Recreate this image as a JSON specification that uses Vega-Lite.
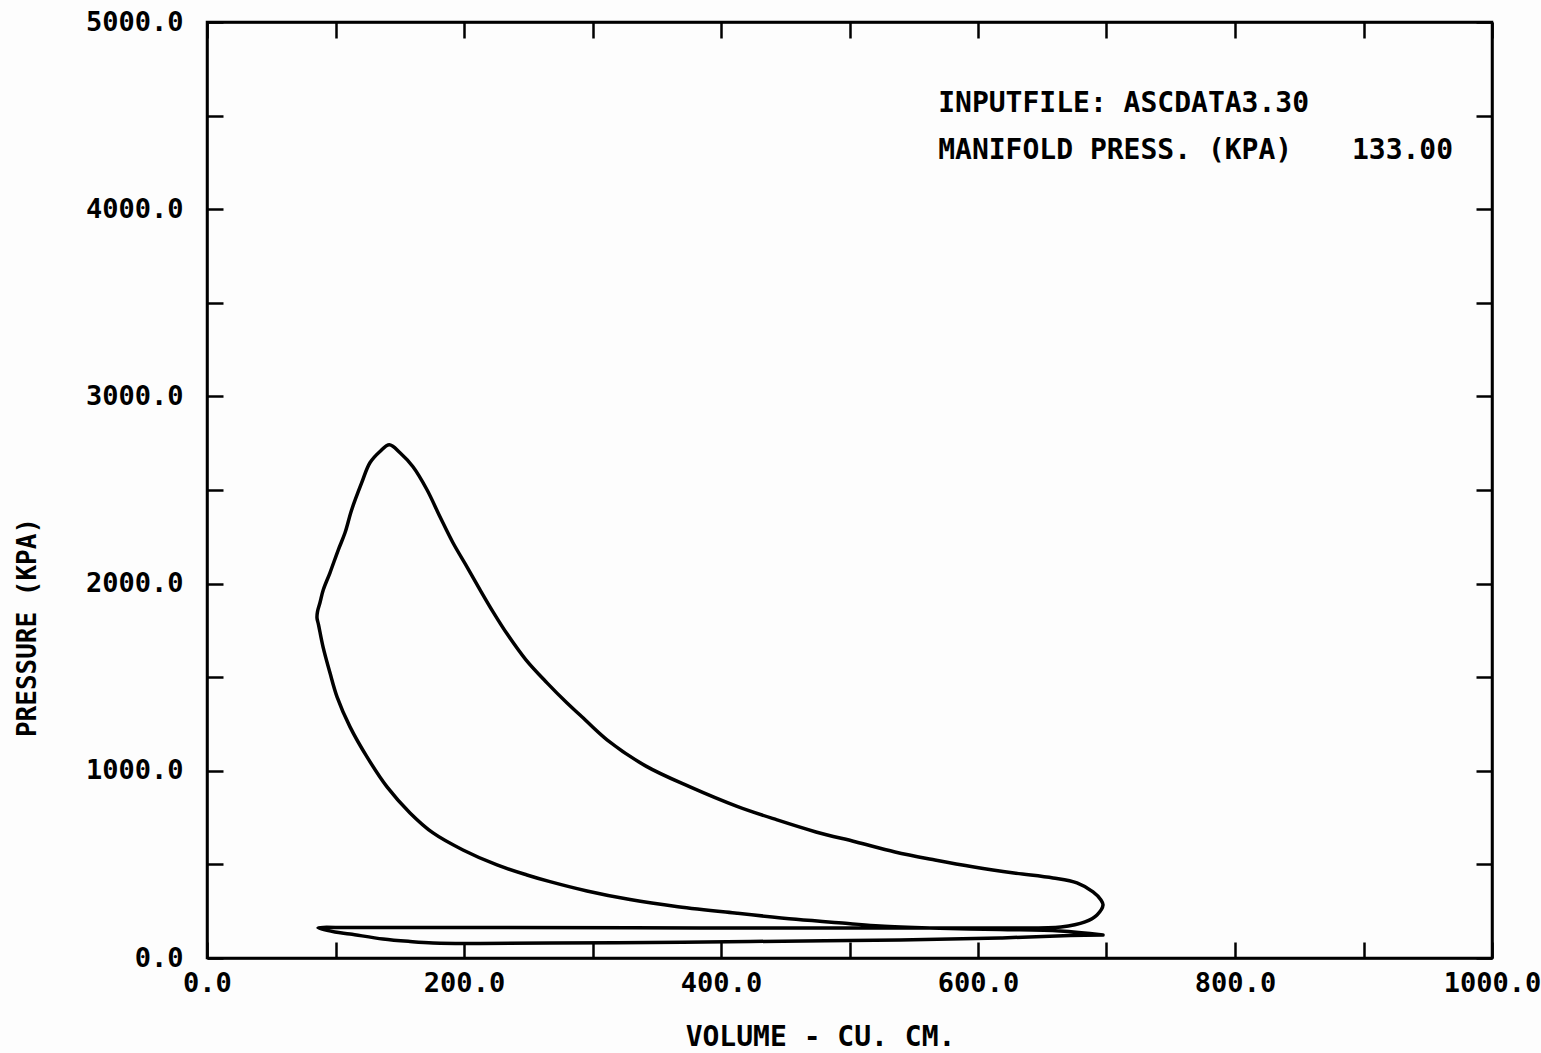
{
  "$schema": "https://vega.github.io/schema/vega-lite/v6.json",
  "autosize": "none",
  "padding": {"left": 207, "top": 22, "right": 49, "bottom": 95},
  "width": 1285,
  "height": 936,
  "background": "#fdfdfd",
  "config": {
    "view": {"stroke": "black", "strokeWidth": 2.5},
    "axis": {
      "grid": false,
      "domainColor": "black",
      "domainWidth": 2.5,
      "tickColor": "black",
      "tickWidth": 2.5,
      "labelColor": "black",
      "labelFont": "DejaVu Sans Mono",
      "labelFontWeight": "bold",
      "labelFontSize": 27,
      "labelOverlap": false,
      "labelFlush": false,
      "titleColor": "black",
      "titleFont": "DejaVu Sans Mono",
      "titleFontWeight": "bold",
      "titleFontSize": 26
    }
  },
  "datasets": {
    "cycle": [
      {"i": 1, "V": 697.3, "P": 122.9},
      {"i": 2, "V": 663.8, "P": 144.3},
      {"i": 3, "V": 617.1, "P": 152.3},
      {"i": 4, "V": 562.6, "P": 160.3},
      {"i": 5, "V": 523.7, "P": 171.0},
      {"i": 6, "V": 498.8, "P": 184.4},
      {"i": 7, "V": 458.4, "P": 206.8},
      {"i": 8, "V": 412.5, "P": 238.9},
      {"i": 9, "V": 366.5, "P": 274.2},
      {"i": 10, "V": 329.2, "P": 312.0},
      {"i": 11, "V": 295.7, "P": 358.0},
      {"i": 12, "V": 266.9, "P": 407.8},
      {"i": 13, "V": 249.0, "P": 443.6},
      {"i": 14, "V": 225.7, "P": 497.1},
      {"i": 15, "V": 199.2, "P": 577.2},
      {"i": 16, "V": 175.9, "P": 668.1},
      {"i": 17, "V": 158.0, "P": 775.0},
      {"i": 18, "V": 140.1, "P": 914.0},
      {"i": 19, "V": 124.5, "P": 1074.3},
      {"i": 20, "V": 111.3, "P": 1234.6},
      {"i": 21, "V": 101.2, "P": 1395.0},
      {"i": 22, "V": 95.7, "P": 1523.3},
      {"i": 23, "V": 90.3, "P": 1662.2},
      {"i": 24, "V": 86.8, "P": 1779.8},
      {"i": 25, "V": 85.6, "P": 1817.2},
      {"i": 26, "V": 86.0, "P": 1850.0},
      {"i": 27, "V": 87.9, "P": 1897.4},
      {"i": 28, "V": 90.5, "P": 1966.9},
      {"i": 29, "V": 95.7, "P": 2057.7},
      {"i": 30, "V": 102.2, "P": 2180.7},
      {"i": 31, "V": 107.4, "P": 2271.5},
      {"i": 32, "V": 112.6, "P": 2394.4},
      {"i": 33, "V": 120.4, "P": 2538.8},
      {"i": 34, "V": 126.8, "P": 2645.6},
      {"i": 35, "V": 134.6, "P": 2706.0},
      {"i": 36, "V": 141.9, "P": 2741.8},
      {"i": 37, "V": 150.2, "P": 2699.1},
      {"i": 38, "V": 160.3, "P": 2624.3},
      {"i": 39, "V": 171.2, "P": 2501.3},
      {"i": 40, "V": 181.3, "P": 2357.0},
      {"i": 41, "V": 191.4, "P": 2218.1},
      {"i": 42, "V": 202.3, "P": 2089.8},
      {"i": 43, "V": 212.5, "P": 1966.9},
      {"i": 44, "V": 222.6, "P": 1849.3},
      {"i": 45, "V": 233.5, "P": 1731.7},
      {"i": 46, "V": 248.2, "P": 1592.7},
      {"i": 47, "V": 264.6, "P": 1469.8},
      {"i": 48, "V": 280.2, "P": 1362.0},
      {"i": 49, "V": 290.3, "P": 1298.0},
      {"i": 50, "V": 311.3, "P": 1165.2},
      {"i": 51, "V": 341.6, "P": 1025.0},
      {"i": 52, "V": 375.9, "P": 914.0},
      {"i": 53, "V": 412.5, "P": 810.0},
      {"i": 54, "V": 443.6, "P": 737.6},
      {"i": 55, "V": 473.9, "P": 673.4},
      {"i": 56, "V": 505.1, "P": 620.0},
      {"i": 57, "V": 535.4, "P": 566.5},
      {"i": 58, "V": 566.5, "P": 523.8},
      {"i": 59, "V": 596.9, "P": 486.4},
      {"i": 60, "V": 628.0, "P": 454.3},
      {"i": 61, "V": 658.4, "P": 427.6},
      {"i": 62, "V": 677.0, "P": 400.9},
      {"i": 63, "V": 689.5, "P": 352.8},
      {"i": 64, "V": 695.7, "P": 310.0},
      {"i": 65, "V": 697.3, "P": 283.3},
      {"i": 66, "V": 692.6, "P": 229.8},
      {"i": 67, "V": 683.3, "P": 192.4},
      {"i": 68, "V": 664.6, "P": 165.7},
      {"i": 69, "V": 617.1, "P": 160.3},
      {"i": 70, "V": 539.3, "P": 160.3},
      {"i": 71, "V": 383.7, "P": 160.3},
      {"i": 72, "V": 228.0, "P": 163.0},
      {"i": 73, "V": 111.3, "P": 163.0},
      {"i": 74, "V": 86.4, "P": 160.3},
      {"i": 75, "V": 99.6, "P": 139.0},
      {"i": 76, "V": 111.3, "P": 128.3},
      {"i": 77, "V": 137.0, "P": 101.6},
      {"i": 78, "V": 158.0, "P": 88.2},
      {"i": 79, "V": 175.9, "P": 80.2},
      {"i": 80, "V": 212.5, "P": 77.5},
      {"i": 81, "V": 266.9, "P": 80.2},
      {"i": 82, "V": 344.7, "P": 82.8},
      {"i": 83, "V": 422.6, "P": 88.2},
      {"i": 84, "V": 539.3, "P": 96.2},
      {"i": 85, "V": 617.1, "P": 106.9},
      {"i": 86, "V": 671.6, "P": 120.3},
      {"i": 87, "V": 697.3, "P": 122.9}
    ],
    "notes": [
      {"V": 569, "P": 4564, "label": "INPUTFILE: ASCDATA3.30"},
      {"V": 569, "P": 4313, "label": "MANIFOLD PRESS. (KPA)"},
      {"V": 891, "P": 4313, "label": "133.00"}
    ]
  },
  "resolve": {"axis": {"x": "independent", "y": "independent"}},
  "layer": [
    {
      "data": {"name": "cycle"},
      "mark": {"type": "line", "color": "black", "strokeWidth": 3.5, "strokeJoin": "round", "strokeCap": "round", "interpolate": "catmull-rom"},
      "encoding": {
        "x": {
          "field": "V", "type": "quantitative",
          "scale": {"domain": [0, 1000], "nice": false, "zero": false},
          "axis": {
            "orient": "bottom",
            "values": [0, 100, 200, 300, 400, 500, 600, 700, 800, 900, 1000],
            "labelExpr": "datum.value % 200 === 0 ? format(datum.value, '.1f') : ''",
            "tickSize": -16,
            "labelPadding": 28,
            "title": "VOLUME - CU. CM.",
            "titleFontSize": 28,
            "titleX": 613,
            "titleY": 79,
            "titleBaseline": "middle",
            "titleAlign": "center"
          }
        },
        "y": {
          "field": "P", "type": "quantitative",
          "scale": {"domain": [0, 5000], "nice": false, "zero": false},
          "axis": {
            "orient": "left",
            "values": [0, 500, 1000, 1500, 2000, 2500, 3000, 3500, 4000, 4500, 5000],
            "labelExpr": "datum.value % 1000 === 0 ? format(datum.value, '.1f') : ''",
            "tickSize": -16,
            "labelPadding": 40,
            "title": "PRESSURE (KPA)",
            "titleX": -180,
            "titleY": 605,
            "titleAngle": 270,
            "titleBaseline": "middle",
            "titleAlign": "center"
          }
        },
        "order": {"field": "i", "type": "quantitative"}
      }
    },
    {
      "data": {"name": "cycle"},
      "mark": {"type": "point", "opacity": 0},
      "encoding": {
        "x": {
          "field": "V", "type": "quantitative",
          "axis": {
            "orient": "top",
            "values": [0, 100, 200, 300, 400, 500, 600, 700, 800, 900, 1000],
            "labels": false,
            "tickSize": -16,
            "title": null
          }
        },
        "y": {
          "field": "P", "type": "quantitative",
          "axis": {
            "orient": "right",
            "values": [0, 500, 1000, 1500, 2000, 2500, 3000, 3500, 4000, 4500, 5000],
            "labels": false,
            "tickSize": -16,
            "title": null
          }
        }
      }
    },
    {
      "data": {"name": "notes"},
      "mark": {"type": "text", "align": "left", "baseline": "middle", "font": "DejaVu Sans Mono", "fontWeight": "bold", "fontSize": 28, "color": "black"},
      "encoding": {
        "x": {"field": "V", "type": "quantitative", "axis": null},
        "y": {"field": "P", "type": "quantitative", "axis": null},
        "text": {"field": "label", "type": "nominal"}
      }
    }
  ]
}
